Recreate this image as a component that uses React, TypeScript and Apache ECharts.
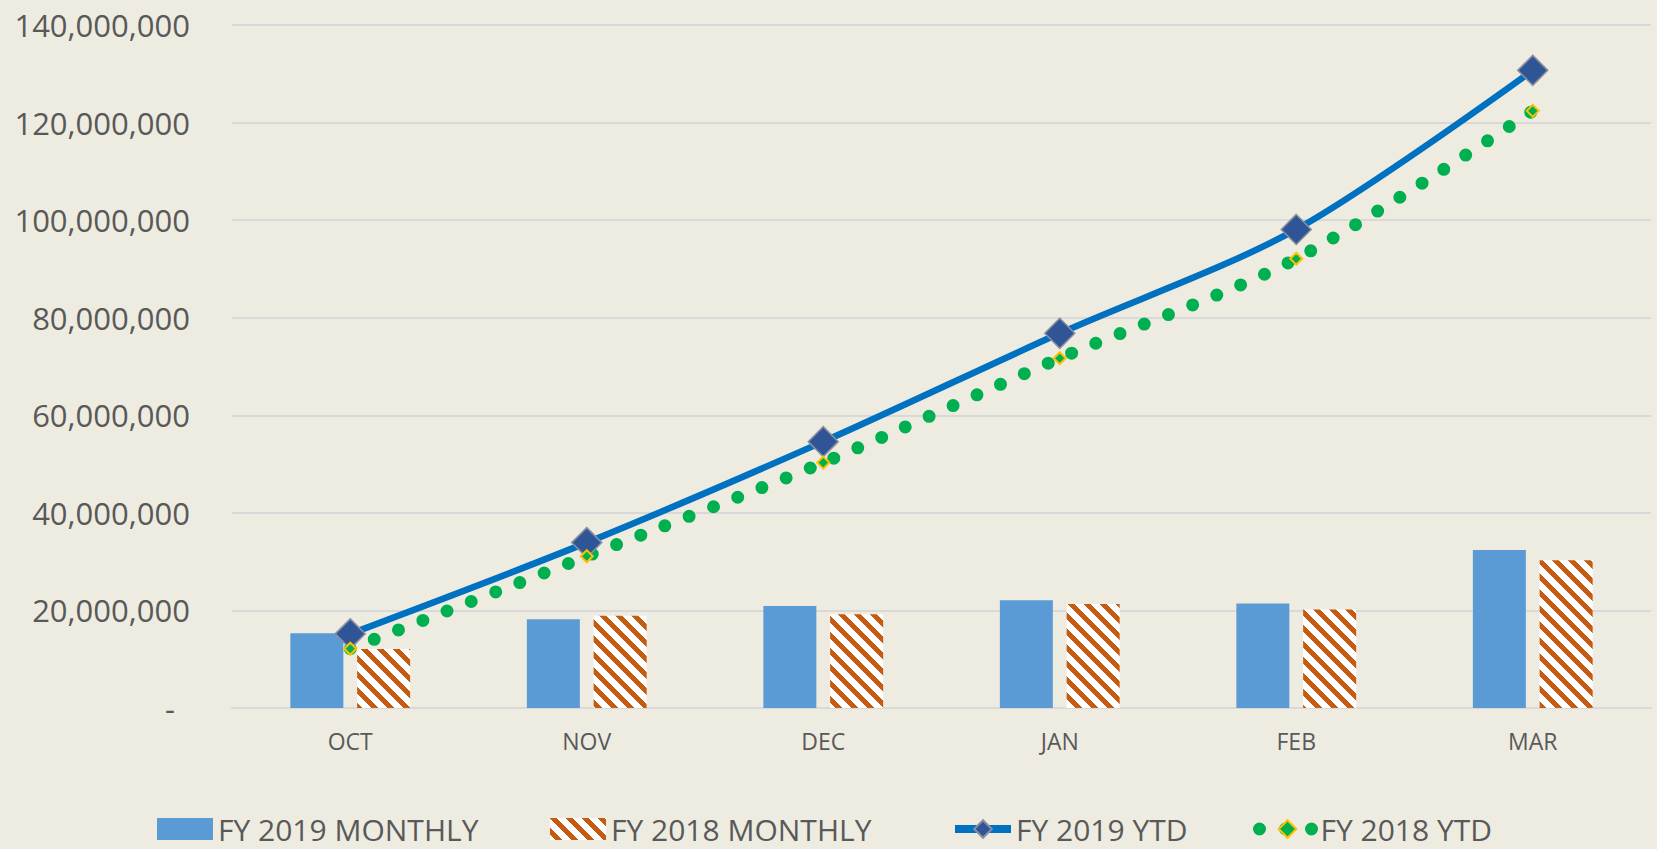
import React, { useEffect, useRef } from 'react';
import * as echarts from 'echarts';

const months = ['OCT', 'NOV', 'DEC', 'JAN', 'FEB', 'MAR'];
const fy2019Monthly = [15300000, 18200000, 20900000, 22100000, 21400000, 32400000];
const fy2018Monthly = [12100000, 18900000, 19200000, 21300000, 20200000, 30300000];
const fy2019Ytd = [15200000, 33900000, 54600000, 76800000, 98100000, 130700000];
const fy2018Ytd = [12150000, 31100000, 50300000, 71700000, 92100000, 122400000];
const yMin = 0;
const yMax = 140000000;
const yStep = 20000000;
const seriesNames = ['FY 2019 MONTHLY', 'FY 2018 MONTHLY', 'FY 2019 YTD', 'FY 2018 YTD'];

const FONT = 'Open Sans';
const TXT = '#595959';

function makeHatch(): HTMLCanvasElement {
  const c = document.createElement('canvas');
  c.width = 16;
  c.height = 16;
  const ctx = c.getContext('2d')!;
  ctx.fillStyle = '#FFFFFF';
  ctx.fillRect(0, 0, 16, 16);
  ctx.fillStyle = '#C55A11';
  for (let y = 0; y < 16; y++) {
    for (let x = 0; x < 16; x++) {
      const d = (((x - y) % 16) + 16) % 16;
      if (d < 7) ctx.fillRect(x, y, 1, 1);
    }
  }
  return c;
}

export default function App() {
  const ref = useRef<HTMLDivElement>(null);
  useEffect(() => {
    if (!ref.current) return;
    const chart = echarts.init(ref.current, undefined, { renderer: 'svg' });
    const hatch = makeHatch();
    const legendCommon = {
      itemWidth: 56,
      itemHeight: 22,
      padding: 0,
      itemGap: 0,
      top: 814,
      selectedMode: false,
      textStyle: { fontSize: 30, lineHeight: 26, color: TXT, fontFamily: FONT },
    };
    chart.setOption({
      animation: false,
      backgroundColor: '#EEECE1',
      textStyle: { fontFamily: FONT },
      grid: { left: 232, right: 6, top: 25, bottom: 141, containLabel: false },
      legend: [
        { ...legendCommon, left: 157, data: [{ name: seriesNames[0], icon: 'rect' }] },
        { ...legendCommon, left: 550, data: [{ name: seriesNames[1], icon: 'rect' }] },
        { ...legendCommon, left: 951, data: [{ name: seriesNames[2], lineStyle: { width: 8 } }] },
        { ...legendCommon, left: 1253, data: [{ name: seriesNames[3], lineStyle: { width: 13 } }] },
      ],
      xAxis: {
        type: 'category',
        data: months,
        axisTick: { show: false },
        axisLine: { show: true, lineStyle: { color: '#D9D9D9', width: 2 } },
        axisLabel: { fontSize: 23, color: TXT, fontFamily: FONT, margin: 21 },
      },
      yAxis: {
        type: 'value',
        min: yMin,
        max: yMax,
        interval: yStep,
        axisLine: { show: false },
        axisTick: { show: false },
        splitLine: { lineStyle: { color: '#D9D9D9', width: 2 } },
        axisLabel: {
          fontSize: 31,
          color: TXT,
          fontFamily: FONT,
          margin: 42,
          formatter: (v: number) => (v === 0 ? '{z|-}' : v.toLocaleString('en-US')),
          rich: { z: { fontSize: 31, color: TXT, fontFamily: FONT, padding: [0, 15, 0, 0] } },
        },
      },
      series: [
        {
          type: 'bar',
          name: seriesNames[0],
          data: fy2019Monthly,
          barWidth: 53,
          barGap: '26%',
          itemStyle: { color: '#5B9BD5' },
        },
        {
          type: 'bar',
          name: seriesNames[1],
          data: fy2018Monthly,
          barWidth: 53,
          barGap: '26%',
          itemStyle: { color: { image: hatch, repeat: 'repeat', imageWidth: 16, imageHeight: 16 } },
        },
        {
          type: 'line',
          name: seriesNames[2],
          data: fy2019Ytd,
          smooth: 0.3,
          symbol: 'diamond',
          symbolSize: 30,
          lineStyle: { color: '#0070C0', width: 6.5 },
          itemStyle: { color: '#2F5597', borderColor: '#8A8FA0', borderWidth: 1.5 },
        },
        {
          type: 'line',
          name: seriesNames[3],
          data: fy2018Ytd,
          smooth: 0.3,
          symbol: 'diamond',
          symbolSize: 12,
          lineStyle: { color: '#00B050', width: 13, type: [0, 26], cap: 'round' },
          itemStyle: { color: '#00B050', borderColor: '#FFC000', borderWidth: 2 },
        },
      ],
    });
    return () => chart.dispose();
  }, []);
  return (
    <div
      ref={ref}
      style={{ position: 'absolute', left: 0, top: 0, width: 1657, height: 849 }}
    />
  );
}
